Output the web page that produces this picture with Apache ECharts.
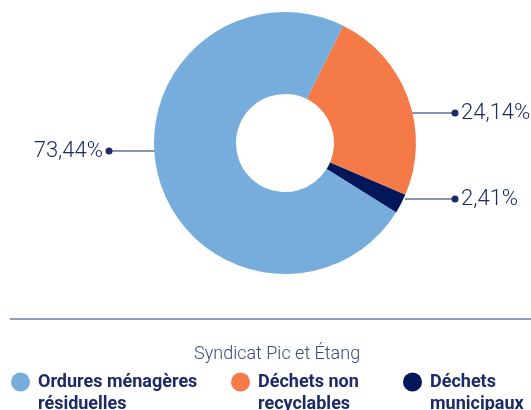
<!DOCTYPE html>
<html>
<head>
<meta charset="utf-8">
<script src="https://cdn.jsdelivr.net/npm/echarts@6/dist/echarts.min.js"></script>
<style>
  html, body { margin: 0; padding: 0; background: #fff; }
  #chart { width: 531px; height: 410px; }
</style>
</head>
<body>
<div id="chart"></div>
<script>
// data, clockwise from the orange slice
const categories = ['Déchets non recyclables', 'Déchets municipaux', 'Ordures ménagères résiduelles']
const legendLabels = ['Déchets non\nrecyclables', 'Déchets\nmunicipaux', 'Ordures ménagères\nrésiduelles']
const values = [24.14, 2.41, 73.44]
const valueLabels = ['24,14%', '2,41%', '73,44%']
const colors = ['#f47b47', '#02165a', '#76addc']
const subtitle = 'Syndicat Pic et Étang'

const navy = '#1c2a68'
const chart = echarts.init(document.getElementById('chart'))

// where each label sits: text anchor x, y and line start x
const labelPos = [
  { x: 461, y: 113, lineX: 393, dotX: 455, align: 'left' },
  { x: 461, y: 199, lineX: 405, dotX: 455, align: 'left' },
  { x: 103, y: 151, lineX: 172, dotX: 109, align: 'right' }
]

function makeLegend(i, left) {
  return {
    data: [categories[i]],
    left: left,
    top: 349,
    padding: 0,
    icon: 'circle',
    itemWidth: 19,
    itemHeight: 19,
    selectedMode: false,
    // empty first line so the icon sits level with the first text line
    formatter: () => '\u00a0\n' + legendLabels[i],
    textStyle: {
      color: navy,
      fontFamily: 'Roboto',
      fontWeight: 'bold',
      fontSize: 18,
      lineHeight: 22,
      padding: [0, 0, 0, 3]
    }
  }
}

const option = {
  animation: false,
  title: {
    text: subtitle,
    left: 189,
    top: 340,
    textStyle: {
      color: '#3b4784',
      fontFamily: 'Roboto',
      fontWeight: 300,
      fontSize: 18
    }
  },
  legend: [makeLegend(2, 11), makeLegend(0, 231), makeLegend(1, 403)],
  graphic: [
    {
      type: 'line',
      shape: { x1: 10, y1: 319, x2: 531, y2: 319 },
      style: { stroke: '#6f7bb0', lineWidth: 1.5 }
    }
  ].concat(labelPos.map(lp => ({
    // dots at the end of the label lines
    type: 'circle',
    shape: { cx: lp.dotX, cy: lp.y, r: 3.5 },
    style: { fill: navy }
  }))),
  series: [
    {
      type: 'pie',
      center: [285, 143],
      radius: [49, 131],
      startAngle: 63.6,
      clockwise: true,
      color: colors,
      data: categories.map((name, i) => ({ name, value: values[i] })),
      label: {
        show: true,
        formatter: p => valueLabels[p.dataIndex],
        color: navy,
        fontFamily: 'Roboto',
        fontSize: 22,
        fontWeight: 300,
        overflow: 'none'
      },
      labelLine: {
        show: true,
        lineStyle: { color: navy, width: 1.2 }
      },
      labelLayout: p => {
        const lp = labelPos[p.dataIndex]
        return {
          x: lp.x,
          y: lp.y,
          align: lp.align,
          verticalAlign: 'middle',
          labelLinePoints: [[lp.lineX, lp.y], [lp.dotX, lp.y], [lp.dotX, lp.y]]
        }
      },
      emphasis: { disabled: true }
    }
  ]
}
chart.setOption(option)
</script>
</body>
</html>
